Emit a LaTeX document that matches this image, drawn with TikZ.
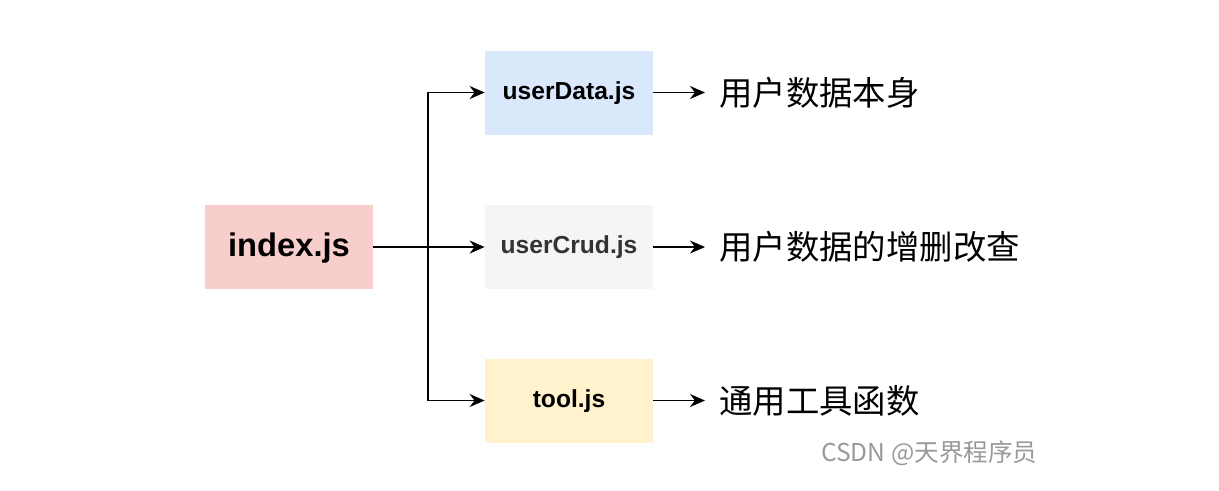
\documentclass[tikz,border=0pt]{standalone}
\usepackage{fontspec}
\setmainfont{Liberation Sans}
\newfontfamily\cjk{Noto Sans CJK SC}
\usetikzlibrary{positioning, arrows.meta}
\definecolor{dioblue}{HTML}{DAE8FC}
\definecolor{diogray}{HTML}{F5F5F5}
\definecolor{dioyellow}{HTML}{FFF2CC}
\definecolor{diored}{HTML}{F8CECC}
\definecolor{darktext}{HTML}{333333}

\begin{document}
\begin{tikzpicture}[
      file/.style={fill=#1, minimum width=3.36cm, minimum height=1.68cm,
                   align=center, text depth=0.5ex,
                   font=\fontsize{14}{16}\selectfont\bfseries},
      note/.style={anchor=west, inner sep=0.28cm,
                   font=\cjk\fontsize{19}{22}\selectfont},
      >={Stealth[length=3mm, width=2.6mm]},
      link/.style={->, line width=0.85pt},
    ]
    \useasboundingbox (0, 0) rectangle (24.38, -9.8);

    % Files
    \node[file=diored, font=\fontsize{18.6}{21}\selectfont\bfseries]
                            (index)    at (5.78, -4.94)  {index.js};
    \node[file=dioblue]     (userdata) at (11.38, -1.85) {userData.js};
    \node[file=diogray, text=darktext]
                            (usercrud) at (11.38, -4.94) {userCrud.js};
    \node[file=dioyellow]   (tool)     at (11.38, -8.01) {tool.js};

    % Notes
    \node[note] (datanote) at (14.1, -1.85) {用户数据本身};
    \node[note] (crudnote) at (14.1, -4.94) {用户数据的增删改查};
    \node[note] (toolnote) at (14.1, -8.01) {通用工具函数};

    \node[anchor=west, text=black!40, font=\cjk\fontsize{14}{16}\selectfont]
      (mark) at (16.3, -9.06) {CSDN @天界程序员};

    % Connections
    \coordinate (split) at (8.56, -4.94);
    \draw[link] (index) -- (usercrud);
    \draw[link] (split) |- (userdata);
    \draw[link] (split) |- (tool);

    \draw[link] (userdata) -- (datanote);
    \draw[link] (usercrud) -- (crudnote);
    \draw[link] (tool) -- (toolnote);
  \end{tikzpicture}
\end{document}
